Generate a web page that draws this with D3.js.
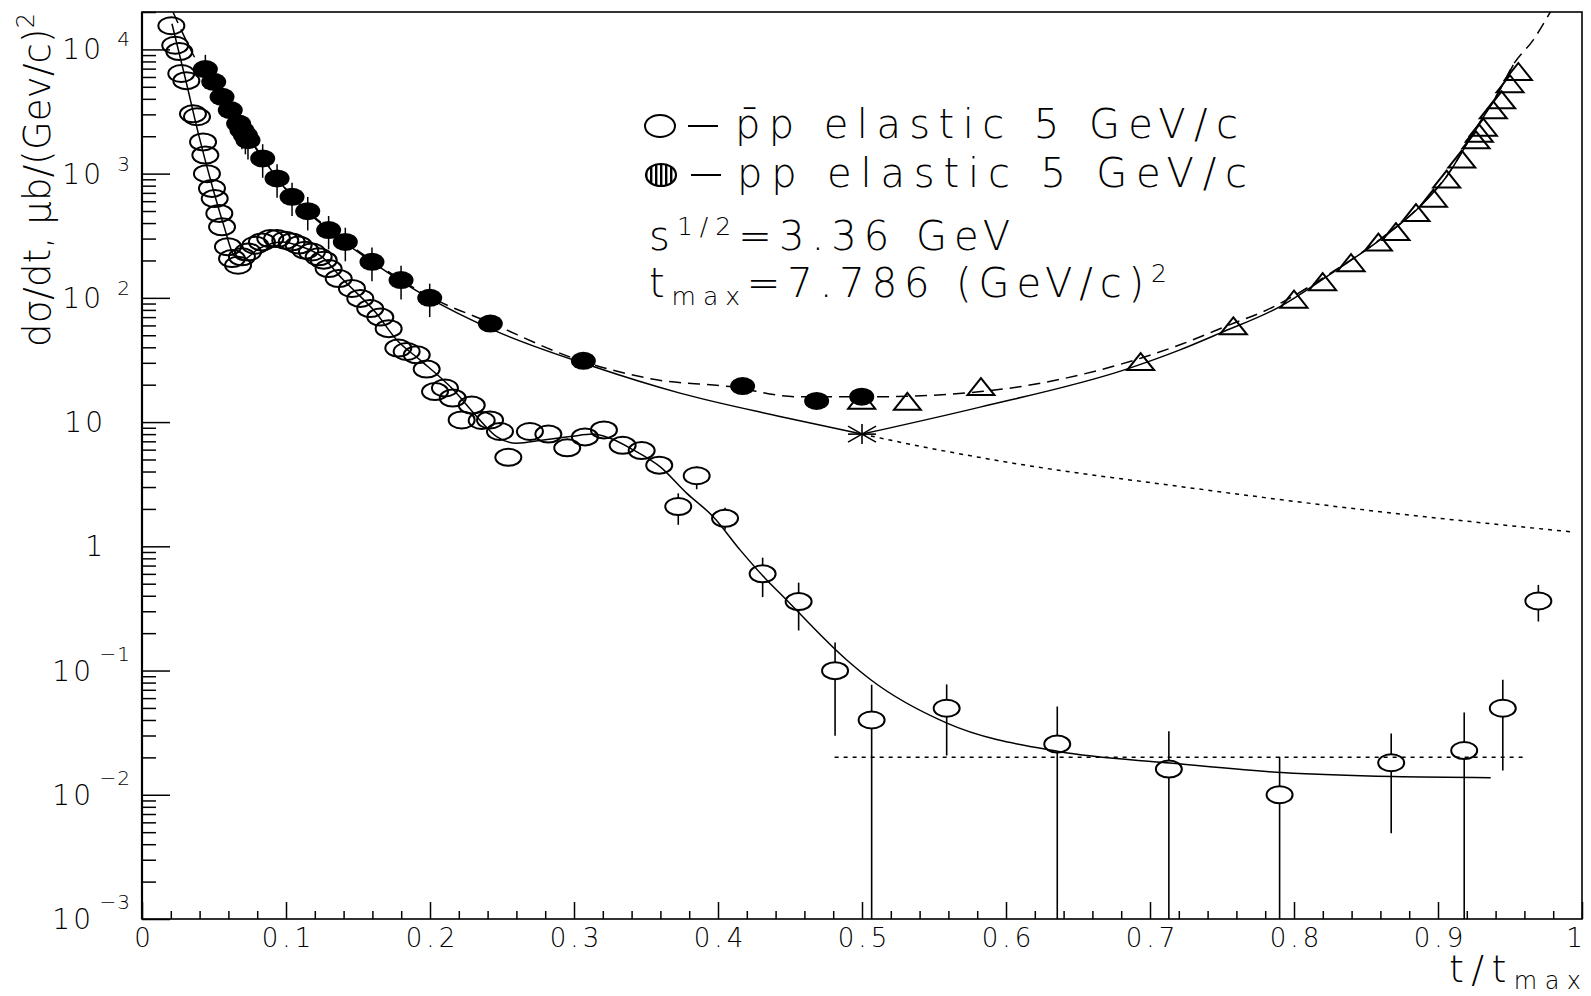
<!DOCTYPE html>
<html>
<head>
<meta charset="utf-8">
<script src="https://cdn.jsdelivr.net/npm/d3@7/dist/d3.min.js"></script>
<style>
  body { margin: 0; background: #fff; }
  svg text { font-family: "DejaVu Sans", "Liberation Sans", sans-serif; font-weight: 200; fill: #000; }
  .tick-label { font-size: 26px; letter-spacing: 4px; }
  .ylab-base { font-size: 28px; letter-spacing: 3px; }
  .ylab-exp { font-size: 20px; letter-spacing: 1px; }
  .legend { font-size: 40px; }
</style>
</head>
<body>
<div id="chart"></div>
<script>
// pbar-p elastic, open circles (t/tmax, dsigma/dt)
var pbarT = [0.0204, 0.0231, 0.0259, 0.0273, 0.0308, 0.0354, 0.0382, 0.0424, 0.0440, 0.0451,
  0.0486, 0.0505, 0.0537, 0.0556, 0.0597, 0.0625, 0.0667, 0.0694, 0.0736, 0.0787,
  0.0833, 0.0891, 0.0938, 0.0995, 0.1040, 0.1088, 0.1134, 0.1180, 0.1227, 0.1262,
  0.1296, 0.1366, 0.1458, 0.1516, 0.1585, 0.1655, 0.1713, 0.1780, 0.1838, 0.1908,
  0.1977, 0.2035, 0.2104, 0.2158, 0.2290, 0.2220, 0.2359, 0.2417, 0.2486, 0.2544,
  0.2694, 0.2822, 0.2953, 0.3076, 0.3208, 0.3338, 0.3470, 0.3592, 0.3724, 0.3852,
  0.4049, 0.4310, 0.4560, 0.4813, 0.5067, 0.5588, 0.6356, 0.7131, 0.7900, 0.8675,
  0.9182, 0.9450, 0.9697];
var pbarV = [15500, 10800, 9600, 6400, 5600, 3030, 2870, 1800, 1410, 1000,
  760, 630, 478, 373, 258, 207, 183, 214, 234, 265,
  282, 300, 300, 291, 282, 266, 242, 234, 214, 201,
  172, 143, 119, 99, 82, 70, 56.5, 39.4, 37.0, 34.8,
  26.7, 17.6, 18.8, 15.6, 13.7, 10.4, 10.3, 10.4, 8.4, 5.2,
  8.4, 8.0, 6.2, 7.6, 8.65, 6.5, 5.9, 4.5, 2.09, 3.7,
  1.68, 0.60, 0.359, 0.0998, 0.040, 0.0497, 0.0256, 0.0161, 0.0100, 0.0181,
  0.0227, 0.0497, 0.363];

// error bars of the pbar-p points (1e-4 = bar runs down out of the frame)
var pbarErrT = [0.2953, 0.3076, 0.3338, 0.3470, 0.3592, 0.3724, 0.3852, 0.4049, 0.4310, 0.4560,
  0.4813, 0.5067, 0.5588, 0.6356, 0.7131, 0.7900, 0.8675, 0.9182, 0.9450, 0.9697];
var pbarErrLo = [5.6, 7.0, 5.8, 5.3, 4.0, 1.49, 2.88, 1.36, 0.39, 0.21,
  0.0299, 1e-4, 0.0207, 1e-4, 1e-4, 1e-4, 0.00491, 1e-4, 0.0157, 0.248];
var pbarErrHi = [6.8, 8.3, 7.2, 6.6, 5.1, 2.67, 4.38, 2.04, 0.81, 0.51,
  0.168, 0.0768, 0.0773, 0.0513, 0.0324, 0.0202, 0.0312, 0.046, 0.0842, 0.489];

// pp elastic, filled circles
var ppT = [0.0440, 0.0498, 0.0556, 0.0613, 0.0671, 0.0694, 0.0718, 0.0736, 0.0838, 0.0938,
  0.1042, 0.1151, 0.1296, 0.1412, 0.1597, 0.1799, 0.1998, 0.2419, 0.3065, 0.4171,
  0.4685, 0.4998];
var ppV = [6940, 5480, 4150, 3245, 2530, 2240, 2040, 1860, 1325, 914,
  650, 499, 351, 282, 195, 139, 100, 62.1, 31.1, 19.5,
  14.8, 16.0];
var ppErr = [2100, 1650, 1250, 980, 760, 670, 610, 560, 400, 275,
  195, 150, 105, 85, 59, 42, 30];

// pp reflected to large t, open triangles
var triT = [0.4998, 0.5315, 0.5826, 0.6935, 0.7579, 0.8000, 0.8199, 0.8396, 0.8586, 0.8708,
  0.8847, 0.8968, 0.9060, 0.9165, 0.9264, 0.9287, 0.9315, 0.9384, 0.9442, 0.9500, 0.9558];
var triV = [15.0, 14.7, 19.3, 30.7, 59.6, 97.5, 135, 192, 281, 342,
  486, 635, 904, 1310, 1870, 2115, 2365, 3260, 3925, 5290, 6640];

// point at t = tmax/2
var starT = [0.5];
var starV = [8.0];

// fit curves
var pbarFitT = [0.0208, 0.0301, 0.0394, 0.0486, 0.0567, 0.0637, 0.0694, 0.0810, 0.0972, 0.1110,
  0.1250, 0.1389, 0.1620, 0.1771, 0.1930, 0.2162, 0.2324, 0.2463, 0.2602, 0.2787,
  0.2972, 0.3134, 0.3250, 0.3412, 0.3597, 0.3782, 0.3967, 0.4153, 0.4338, 0.4430,
  0.4894, 0.5063, 0.5590, 0.6365, 0.7139, 0.7915, 0.8688, 0.9366];
var pbarFitV = [16100, 5830, 2040, 807, 385, 221, 201, 249, 282, 258,
  214, 143, 77, 45.6, 31.7, 18.2, 11.1, 7.64, 6.76, 7.19,
  7.64, 8.0, 7.4, 5.97, 4.38, 2.68, 1.73, 0.936, 0.536, 0.419,
  0.1216, 0.0839, 0.0377, 0.0223, 0.0180, 0.0151, 0.0140, 0.01374];

// solid pp fit, left and right branch meeting at the asterisk
var ppFitLeftT = [0.0440, 0.0613, 0.0838, 0.1042, 0.1296, 0.1597, 0.1998, 0.2426, 0.3134, 0.3736,
  0.4430, 0.5000];
var ppFitLeftV = [6900, 3250, 1330, 650, 352, 195, 99, 56, 28, 17.1,
  11.1, 8.0];
var ppFitRightT = [0.5000, 0.5820, 0.6838, 0.7208, 0.7486, 0.7903, 0.8296, 0.8597, 0.8875, 0.9060,
  0.9245, 0.9430, 0.9523];
var ppFitRightV = [8.0, 13.2, 26.7, 38.1, 52, 85, 168, 293, 543, 948,
  2120, 4730, 7510];

var ppDashT = [0.0215, 0.0382, 0.0613, 0.0838, 0.1042, 0.1296, 0.1597, 0.1998, 0.2419, 0.2995,
  0.3574, 0.4083, 0.4546, 0.5100, 0.5826, 0.6935, 0.7208, 0.7580, 0.7787, 0.8296,
  0.8597, 0.8875, 0.9060, 0.9245, 0.9430, 0.9523, 0.9662, 0.9780];
var ppDashV = [20000, 7940, 3300, 1350, 660, 360, 200, 102, 63, 32.7,
  21.9, 19.3, 16.0, 16.0, 17.6, 32.7, 41.9, 62.5, 77.6, 170,
  296, 548, 955, 2130, 4750, 7550, 11940, 20000];

var dotT = [0.5, 0.547, 0.605, 0.7208, 0.8597, 0.9917];
var dotV = [8.0, 6.17, 4.67, 3.03, 1.90, 1.31];

var flatT = [0.481, 0.962];
var flatV = [0.02, 0.02];

// axis ticks
var xMajor = [0, 0.1, 0.2, 0.3, 0.4, 0.5, 0.6, 0.7, 0.8, 0.9, 1];
var xTickLabels = ["0", "0.1", "0.2", "0.3", "0.4", "0.5", "0.6", "0.7", "0.8", "0.9", "1"];
var yDecades = [1e-3, 1e-2, 1e-1, 1, 10, 1e2, 1e3, 1e4];
var yTickBase = ["10", "10", "10", "1", "10", "10", "10", "10"];
var yTickExp = ["\u22123", "\u22122", "\u22121", "", "", "2", "3", "4"];

// chart size
var width = 1591;
var height = 996;
var margin = { top: 12, right: 9, bottom: 77, left: 142 };

var svg = d3.select("#chart")
  .append("svg")
  .attr("width", width)
  .attr("height", height);

var xScale = d3.scaleLinear()
  .domain([0, 1])
  .range([margin.left, width - margin.right]);

var yScale = d3.scaleLog()
  .domain([1e-3, 2e4])
  .range([height - margin.bottom, margin.top]);

var x0 = margin.left, x1 = width - margin.right;
var y0 = height - margin.bottom, y1 = margin.top;

// clip for the data
svg.append("defs").append("clipPath")
  .attr("id", "clip")
  .append("rect")
  .attr("x", x0).attr("y", y1)
  .attr("width", x1 - x0).attr("height", y0 - y1);

// vertical hatch for the legend marker
svg.select("defs").append("pattern")
  .attr("id", "vhatch")
  .attr("patternUnits", "userSpaceOnUse")
  .attr("width", 5).attr("height", 10)
  .append("rect")
  .attr("width", 2.4).attr("height", 10)
  .attr("fill", "#000");

// frame
svg.append("rect")
  .attr("x", x0).attr("y", y1)
  .attr("width", x1 - x0).attr("height", y0 - y1)
  .attr("fill", "none")
  .attr("stroke", "#000")
  .attr("stroke-width", 1.6);

svg.append("line")
  .attr("x1", x0).attr("x2", x0)
  .attr("y1", y1).attr("y2", y0)
  .attr("stroke", "#000").attr("stroke-width", 2.2);

// x minor ticks
var xMinor = d3.range(0.02, 1, 0.02).filter(function(d) {
  return Math.abs(d * 10 - Math.round(d * 10)) > 1e-6;
});

svg.append("g")
  .attr("transform", "translate(0," + y0 + ")")
  .call(d3.axisBottom(xScale).tickValues(xMinor).tickSize(-8).tickFormat(""))
  .call(function(g) { g.select(".domain").remove(); })
  .selectAll("line").attr("stroke-width", 1.5);

// x major ticks with labels
var xAxis = svg.append("g")
  .attr("transform", "translate(0," + y0 + ")")
  .call(d3.axisBottom(xScale)
    .tickValues(xMajor)
    .tickSize(-17)
    .tickPadding(10)
    .tickFormat(function(d, i) { return xTickLabels[i]; }));
xAxis.select(".domain").remove();
xAxis.selectAll("line").attr("stroke-width", 1.5);
xAxis.selectAll("text")
  .attr("class", "tick-label")
  .attr("font-size", null).attr("font-family", null)
  .attr("dx", function(d) { return d === 1 ? "-6px" : "2px"; });

// y minor ticks
var yMinor = [];
yDecades.forEach(function(d) {
  for (var k = 2; k <= 9; k++) {
    if (d * k <= 2e4) yMinor.push(d * k);
  }
});

svg.append("g")
  .attr("transform", "translate(" + x0 + ",0)")
  .call(d3.axisLeft(yScale).tickValues(yMinor).tickSize(-14).tickFormat(""))
  .call(function(g) { g.select(".domain").remove(); })
  .selectAll("line").attr("stroke-width", 1.5);

svg.append("g")
  .attr("transform", "translate(" + x0 + ",0)")
  .call(d3.axisLeft(yScale).tickValues(yDecades).tickSize(-28).tickFormat(""))
  .call(function(g) { g.select(".domain").remove(); })
  .selectAll("line").attr("stroke-width", 1.5);

// y tick labels: 10 with exponent
yDecades.forEach(function(d, i) {
  var ty = yScale(d);
  var hasExp = yTickExp[i] !== "";
  var neg = yTickExp[i].charAt(0) === "\u2212";
  svg.append("text")
    .attr("class", "ylab-base")
    .attr("text-anchor", "end")
    .attr("x", hasExp ? (neg ? 94 : 104) : 106)
    .attr("y", ty + 10)
    .text(yTickBase[i]);
  if (hasExp) {
    svg.append("text")
      .attr("class", "ylab-exp")
      .attr("text-anchor", "end")
      .attr("x", 131)
      .attr("y", ty + (neg ? -10 : -3))
      .text(yTickExp[i]);
  }
});

// line generator
var line = d3.line()
  .x(function(d) { return xScale(d[0]); })
  .y(function(d) { return yScale(d[1]); })
  .curve(d3.curveMonotoneX);

var plot = svg.append("g").attr("clip-path", "url(#clip)");

function drawCurve(tArr, vArr, dash) {
  plot.append("path")
    .datum(d3.zip(tArr, vArr))
    .attr("d", line)
    .attr("fill", "none")
    .attr("stroke", "#000")
    .attr("stroke-width", 1.5)
    .attr("stroke-dasharray", dash);
}

drawCurve(pbarFitT, pbarFitV, null);
drawCurve(ppFitLeftT, ppFitLeftV, null);
drawCurve(ppFitRightT, ppFitRightV, null);
drawCurve(ppDashT, ppDashV, "12,7");
drawCurve(dotT, dotV, "4,5");
drawCurve(flatT, flatV, "4,5");

// marker sizes
var cRx = 13, cRy = 8.5;
var fRx = 12.5, fRy = 9;

// pbar-p error bars, split around the circle
var errData = d3.zip(pbarErrT, pbarErrLo, pbarErrHi);
errData.forEach(function(d) {
  var idx = pbarT.indexOf(d[0]);
  var cx = xScale(d[0]);
  var cy = yScale(pbarV[idx]);
  var yHi = yScale(d[2]);
  var yLo = Math.min(yScale(d[1]), y0);
  if (yHi < cy - cRy) {
    plot.append("line")
      .attr("x1", cx).attr("x2", cx)
      .attr("y1", yHi).attr("y2", cy - cRy)
      .attr("stroke", "#000").attr("stroke-width", 1.6);
  }
  if (yLo > cy + cRy) {
    plot.append("line")
      .attr("x1", cx).attr("x2", cx)
      .attr("y1", cy + cRy).attr("y2", yLo)
      .attr("stroke", "#000").attr("stroke-width", 1.6);
  }
});

// pp error bars
plot.selectAll(".pperr")
  .data(ppErr)
  .enter()
  .append("line")
  .attr("class", "pperr")
  .attr("x1", function(d, i) { return xScale(ppT[i]); })
  .attr("x2", function(d, i) { return xScale(ppT[i]); })
  .attr("y1", function(d, i) { return yScale(ppV[i] + d); })
  .attr("y2", function(d, i) { return yScale(ppV[i] - d); })
  .attr("stroke", "#000").attr("stroke-width", 1.5);

// open circles
plot.selectAll(".pbar")
  .data(d3.zip(pbarT, pbarV))
  .enter()
  .append("ellipse")
  .attr("class", "pbar")
  .attr("cx", function(d) { return xScale(d[0]); })
  .attr("cy", function(d) { return yScale(d[1]); })
  .attr("rx", cRx).attr("ry", cRy)
  .attr("fill", "none")
  .attr("stroke", "#000").attr("stroke-width", 2);

// triangles
plot.selectAll(".tri")
  .data(d3.zip(triT, triV))
  .enter()
  .append("path")
  .attr("class", "tri")
  .attr("d", function(d) {
    var cx = xScale(d[0]), cy = yScale(d[1]);
    return "M" + (cx - 13.5) + "," + (cy + 8.5) + "L" + cx + "," + (cy - 8.5) +
      "L" + (cx + 13.5) + "," + (cy + 8.5) + "Z";
  })
  .attr("fill", "none")
  .attr("stroke", "#000").attr("stroke-width", 2)
  .attr("stroke-linejoin", "miter");

// filled circles
plot.selectAll(".pp")
  .data(d3.zip(ppT, ppV))
  .enter()
  .append("ellipse")
  .attr("class", "pp")
  .attr("cx", function(d) { return xScale(d[0]); })
  .attr("cy", function(d) { return yScale(d[1]); })
  .attr("rx", fRx).attr("ry", fRy)
  .attr("fill", "#000");

// asterisk at tmax/2
d3.zip(starT, starV).forEach(function(d) {
  var cx = xScale(d[0]), cy = yScale(d[1]);
  var rays = [[14, 0], [0, 10], [14, 8], [14, -8]];
  rays.forEach(function(r) {
    plot.append("line")
      .attr("x1", cx - r[0]).attr("y1", cy - r[1])
      .attr("x2", cx + r[0]).attr("y2", cy + r[1])
      .attr("stroke", "#000").attr("stroke-width", 1.6);
  });
});

// legend
svg.append("ellipse")
  .attr("cx", 660).attr("cy", 126)
  .attr("rx", 15).attr("ry", 11)
  .attr("fill", "none").attr("stroke", "#000").attr("stroke-width", 2);
svg.append("line")
  .attr("x1", 688).attr("x2", 718).attr("y1", 126).attr("y2", 126)
  .attr("stroke", "#000").attr("stroke-width", 2);
svg.append("text")
  .attr("class", "legend")
  .attr("x", 735).attr("y", 138)
  .attr("textLength", 503).attr("lengthAdjust", "spacing")
  .text("p\u0304p elastic 5 GeV/c");

svg.append("ellipse")
  .attr("cx", 661).attr("cy", 175)
  .attr("rx", 15).attr("ry", 11)
  .attr("fill", "url(#vhatch)").attr("stroke", "#000").attr("stroke-width", 2.2);
svg.append("line")
  .attr("x1", 691).attr("x2", 721).attr("y1", 175).attr("y2", 175)
  .attr("stroke", "#000").attr("stroke-width", 2);
svg.append("text")
  .attr("class", "legend")
  .attr("x", 737).attr("y", 187)
  .attr("textLength", 510).attr("lengthAdjust", "spacing")
  .text("pp elastic 5 GeV/c");

var s3 = svg.append("text")
  .attr("class", "legend")
  .attr("x", 649).attr("y", 250)
  .attr("textLength", 361).attr("lengthAdjust", "spacing");
s3.append("tspan").text("s");
s3.append("tspan").attr("dy", -15).style("font-size", "25px").text("1/2");
s3.append("tspan").attr("dy", 15).text("=3.36 GeV");

var s4 = svg.append("text")
  .attr("class", "legend")
  .attr("x", 649).attr("y", 297)
  .attr("textLength", 518).attr("lengthAdjust", "spacing");
s4.append("tspan").text("t");
s4.append("tspan").attr("dy", 8).style("font-size", "25px").text("max");
s4.append("tspan").attr("dy", -8).text("=7.786 (GeV/c)");
s4.append("tspan").attr("dy", -15).style("font-size", "25px").text("2");

// y axis label
var yl = svg.append("text")
  .attr("transform", "translate(50,180) rotate(-90)")
  .attr("text-anchor", "middle")
  .attr("textLength", 334).attr("lengthAdjust", "spacing")
  .style("font-size", "37px");
yl.append("tspan").text("d\u03c3/dt, \u03bcb/(Gev/c)");
yl.append("tspan").attr("dy", -16).style("font-size", "24px").text("2");

// x axis label
var xl = svg.append("text")
  .attr("x", 1581).attr("y", 982)
  .attr("text-anchor", "end")
  .attr("textLength", 132).attr("lengthAdjust", "spacing")
  .style("font-size", "38px");
xl.append("tspan").text("t/t");
xl.append("tspan").attr("dy", 7).style("font-size", "24px").text("max");
</script>
</body>
</html>
